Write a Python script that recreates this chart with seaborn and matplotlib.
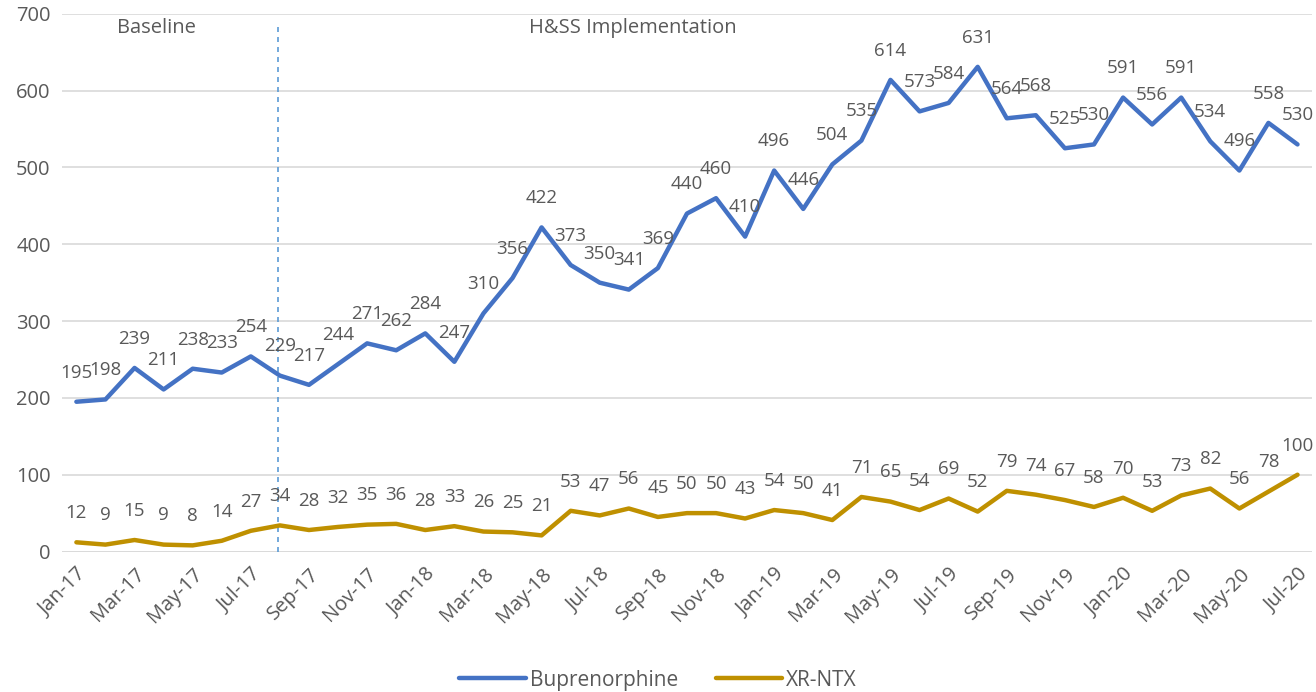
import pandas as pd
import matplotlib.pyplot as plt
import seaborn as sns

# Monthly counts, Jan-17 .. Jul-20
months = pd.date_range("2017-01-01", "2020-07-01", freq="MS").strftime("%b-%y").tolist()
buprenorphine = [195, 198, 239, 211, 238, 233, 254, 229, 217, 244, 271, 262, 284, 247,
                 310, 356, 422, 373, 350, 341, 369, 440, 460, 410, 496, 446, 504, 535,
                 614, 573, 584, 631, 564, 568, 525, 530, 591, 556, 591, 534, 496, 558, 530]
xr_ntx = [12, 9, 15, 9, 8, 14, 27, 34, 28, 32, 35, 36, 28, 33, 26, 25, 21, 53, 47, 56,
          45, 50, 50, 43, 54, 50, 41, 71, 65, 54, 69, 52, 79, 74, 67, 58, 70, 53, 73,
          82, 56, 78, 100]
series_names = ["Buprenorphine", "XR-NTX"]
colors = ["#4472C4", "#BF9000"]
implementation_start = "Aug-17"

df = pd.DataFrame({
    "idx": list(range(len(months))) * 2,
    "value": buprenorphine + xr_ntx,
    "series": [series_names[0]] * len(months) + [series_names[1]] * len(months),
})

sns.set_style("white")
plt.rcParams["font.family"] = ["Open Sans", "DejaVu Sans"]
text_color = "#595959"
fs = 14.5

fig = plt.figure(figsize=(13.16, 6.92), dpi=100)
ax = fig.add_axes([0.047, 0.203, 0.950, 0.777])

sns.lineplot(data=df, x="idx", y="value", hue="series", palette=colors,
             linewidth=3.2, ax=ax, legend=True)

# Data labels above each point
for vals in [buprenorphine, xr_ntx]:
    for i, v in enumerate(vals):
        ax.annotate(str(v), (i, v), xytext=(0, 21), textcoords="offset points",
                    ha="center", va="center", fontsize=13.5, color=text_color)

# Phase divider and phase labels
split = months.index(implementation_start) - 0.08
ax.plot([split, split], [0, 690], ls=(0, (3, 3)), color="#5B9BD5", lw=1.2, zorder=1)
ax.text(2.75, 682, "Baseline", ha="center", va="center", fontsize=fs, color=text_color)
ax.text(19.15, 682, "H&SS Implementation", ha="center", va="center", fontsize=fs,
        color=text_color)

ax.set_xlim(-0.5, len(months) - 0.5)
ax.set_ylim(0, 700)
ax.set_yticks(range(0, 701, 100))
ax.set_xticks(range(0, len(months), 2))
ax.set_xticklabels(months[::2], rotation=45, ha="right", rotation_mode="anchor")
ax.tick_params(axis="both", labelsize=fs, labelcolor=text_color, length=0)
ax.tick_params(axis="x", pad=9)
ax.tick_params(axis="y", pad=8)
ax.yaxis.grid(True, color="#D9D9D9", lw=1.2)
ax.set_axisbelow(True)
for side in ["top", "right", "left", "bottom"]:
    ax.spines[side].set_visible(False)
ax.axhline(0, color="#D9D9D9", lw=1.2, zorder=0)
ax.set_xlabel("")
ax.set_ylabel("")

handles, labels = ax.get_legend_handles_labels()
ax.get_legend().remove()
leg = fig.legend(handles, labels, loc="lower center", bbox_to_anchor=(0.5, -0.025),
                 ncol=2, frameon=False, fontsize=15, handlelength=3.2,
                 columnspacing=1.8, handletextpad=0.2)
for t in leg.get_texts():
    t.set_color(text_color)
for h in leg.get_lines():
    h.set_linewidth(3.2)

fig.savefig("out.png", dpi=100)
